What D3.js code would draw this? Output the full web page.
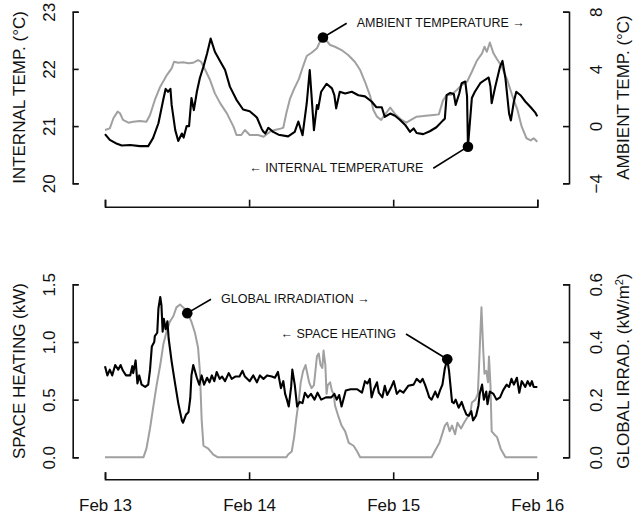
<!DOCTYPE html>
<html>
<head>
<meta charset="utf-8">
<script src="https://cdn.jsdelivr.net/npm/d3@7"></script>
<style>
  body { margin: 0; background: #fff; }
  svg text { font-family: "Liberation Sans", Arial, Helvetica, sans-serif; fill: #111; }
</style>
</head>
<body>
<script>
// hours since Feb 13 00:00, value
const internalTemp = [
  [0,20.86],[0.8,20.76],[2,20.69],[2.8,20.66],[4.2,20.67],[5.8,20.65],[7.2,20.65],[8,20.79],
  [8.9,21.05],[9.7,21.46],[10.1,21.65],[10.5,21.6],[10.9,21.65],[11.1,21.37],[11.7,20.93],
  [12.2,20.74],[12.8,20.87],[13.1,20.8],[13.6,21.0],[14.0,21.0],[14.4,21.49],[14.8,21.28],
  [15.3,21.6],[15.8,21.84],[16.4,22.04],[17.0,22.27],[17.6,22.53],[18.3,22.3],[19.2,22.13],
  [20.0,21.98],[20.8,21.69],[21.9,21.46],[23.0,21.29],[24.1,21.26],[25.3,21.15],[26.1,20.95],
  [26.4,20.9],[26.7,20.87],[27.2,20.97],[28.0,20.9],[28.9,20.85],[30.5,20.82],[31.6,20.9],
  [32.2,21.08],[32.9,20.84],[33.6,21.4],[34.1,21.98],[34.8,20.93],[35.3,21.37],[35.5,21.3],
  [36.0,21.6],[36.9,21.74],[37.8,21.66],[38.2,21.54],[38.5,21.31],[39.1,21.6],[40.0,21.57],
  [41.1,21.6],[42.2,21.54],[43.3,21.52],[44.4,21.43],[45.2,21.33],[46.1,21.33],[46.6,21.16],
  [47.5,21.22],[48.3,21.18],[49.1,21.11],[50.0,21.02],[50.8,20.9],[51.4,20.96],[51.9,20.88],
  [53.0,20.86],[54.1,20.91],[55.2,20.98],[56.3,21.1],[56.6,21.13],[56.9,21.54],[57.5,21.58],
  [58.1,21.56],[58.4,21.37],[59.0,21.57],[59.4,21.75],[60.0,21.78],[60.3,21.52],[60.45,20.64],
  [61.1,21.49],[61.6,21.6],[62.5,21.75],[63.3,21.81],[63.9,21.85],[64.2,21.69],[64.4,21.4],
  [65.0,21.69],[65.8,22.04],[66.2,22.14],[66.7,21.83],[67.3,21.22],[67.6,21.1],[68.1,21.43],
  [68.5,21.6],[69.2,21.54],[70.0,21.43],[70.9,21.33],[71.7,21.23],[72.0,21.17]
];

const ambientTemp = [
  [0,-0.27],[0.8,-0.16],[1.4,0.55],[2.1,1.01],[2.5,0.9],[3.0,0.43],[3.9,0.24],[4.7,0.3],
  [5.8,0.36],[6.9,0.3],[7.5,0.78],[8.3,1.83],[9.2,2.76],[10.3,3.57],[11.1,4.04],[11.5,4.5],
  [12.2,4.43],[13.0,4.46],[13.9,4.4],[14.7,4.43],[15.5,4.62],[16.0,4.5],[16.7,3.92],
  [17.5,3.22],[18.3,2.29],[19.2,1.59],[20.3,0.89],[21.4,-0.04],[21.9,-0.62],[22.7,-0.62],
  [23.3,-0.27],[24.1,-0.62],[25.5,-0.62],[26.4,-0.74],[27.5,-0.39],[28.3,-0.27],[29.4,-0.16],
  [29.7,-0.1],[30.2,0.9],[30.8,1.9],[31.5,2.6],[32.3,3.3],[33.0,4.2],[33.6,4.9],[34.4,5.13],
  [35.3,5.44],[35.8,5.9],[36.4,6.2],[37.5,5.67],[38.3,5.55],[39.4,5.32],[40.5,4.97],
  [41.6,4.5],[42.5,3.92],[43.3,3.1],[44.2,2.06],[44.7,1.13],[45.3,0.66],[46.0,0.43],
  [46.6,0.78],[47.5,1.3],[48.3,0.85],[49.4,0.43],[50.2,0.24],[51.1,0.47],[51.9,0.66],
  [53.0,0.7],[54.7,0.78],[55.6,0.82],[56.3,1.8],[56.9,2.17],[57.7,2.2],[58.6,2.52],
  [59.4,2.87],[60.3,3.1],[61.1,3.8],[61.9,4.55],[62.8,5.09],[63.2,5.55],[63.6,5.2],
  [64.1,5.85],[64.7,5.09],[65.3,4.67],[66.1,4.15],[67.0,3.22],[67.8,2.17],[68.7,1.13],
  [69.4,-0.04],[70.2,-0.85],[70.9,-1.0],[71.4,-0.85],[72.0,-1.1]
];

const spaceHeating = [
  [0,0.79],[0.4,0.71],[0.8,0.76],[1.2,0.71],[1.7,0.8],[2.2,0.76],[2.6,0.8],[3.0,0.75],
  [3.5,0.71],[4.2,0.71],[4.55,0.79],[4.7,0.73],[5.1,0.84],[5.4,0.64],[5.7,0.71],[6.1,0.63],
  [6.7,0.61],[7.2,0.63],[7.5,0.76],[7.8,0.96],[8.2,1.0],[8.3,1.05],[8.7,1.08],[8.9,1.29],
  [9.2,1.39],[9.4,1.32],[9.6,1.09],[9.8,1.2],[10.1,1.11],[10.4,1.18],[10.6,1.03],[11.1,0.83],
  [11.7,0.63],[12.2,0.47],[12.8,0.32],[13.0,0.3],[13.5,0.37],[13.9,0.39],[14.2,0.51],
  [14.4,0.71],[14.7,0.8],[15.3,0.69],[15.7,0.63],[16.1,0.71],[16.5,0.63],[17.0,0.69],
  [17.4,0.65],[17.8,0.71],[18.2,0.66],[18.6,0.74],[19.1,0.68],[19.5,0.7],[20.0,0.66],
  [20.6,0.73],[21.1,0.68],[21.7,0.7],[22.4,0.7],[22.9,0.75],[23.3,0.7],[24.1,0.66],
  [24.7,0.71],[25.3,0.65],[25.8,0.71],[26.4,0.68],[27.0,0.71],[27.8,0.7],[28.3,0.69],
  [28.8,0.74],[29.3,0.6],[29.7,0.66],[30.0,0.55],[30.3,0.5],[30.6,0.44],[31.0,0.61],
  [31.2,0.76],[31.6,0.63],[32.0,0.44],[32.4,0.48],[32.9,0.47],[33.3,0.56],[33.8,0.52],
  [34.3,0.55],[34.9,0.5],[35.4,0.56],[36.0,0.5],[36.8,0.52],[37.7,0.52],[38.2,0.55],
  [38.6,0.5],[39.0,0.54],[39.4,0.44],[40.1,0.58],[40.9,0.59],[42.0,0.59],[42.8,0.56],
  [43.3,0.66],[43.7,0.64],[44.1,0.68],[44.4,0.52],[44.8,0.59],[45.3,0.65],[45.6,0.56],
  [46.2,0.52],[46.6,0.62],[47.0,0.54],[47.6,0.6],[48.1,0.66],[48.6,0.55],[49.1,0.58],
  [49.7,0.56],[50.5,0.62],[51.4,0.63],[51.9,0.68],[52.5,0.65],[52.9,0.68],[53.3,0.63],
  [53.7,0.57],[54.0,0.52],[54.4,0.5],[55.0,0.57],[55.4,0.52],[55.8,0.58],[56.2,0.63],
  [56.6,0.77],[57.0,0.85],[57.3,0.75],[57.8,0.48],[58.1,0.47],[58.4,0.5],[58.9,0.43],
  [59.4,0.48],[59.8,0.42],[60.2,0.37],[60.6,0.36],[61.0,0.4],[61.3,0.32],[61.8,0.36],
  [62.2,0.45],[62.4,0.55],[62.8,0.63],[63.1,0.5],[63.5,0.57],[63.7,0.46],[64.1,0.57],
  [64.7,0.55],[65.2,0.5],[65.8,0.52],[66.3,0.58],[66.9,0.63],[67.3,0.61],[67.7,0.68],
  [68.1,0.63],[68.6,0.69],[69.0,0.56],[69.4,0.66],[70.0,0.61],[70.4,0.66],[70.8,0.62],
  [71.1,0.66],[71.4,0.61],[72.0,0.61]
];

const globalIrrad = [
  [0,0],[6.4,0],[6.9,0.03],[7.5,0.1],[8.0,0.17],[8.6,0.25],[9.2,0.32],[9.7,0.39],
  [10.3,0.44],[10.8,0.47],[11.4,0.49],[11.9,0.52],[12.5,0.53],[13.0,0.52],[13.6,0.51],
  [14.4,0.47],[15.0,0.43],[15.5,0.38],[15.8,0.3],[16.1,0.13],[16.4,0.04],[17.2,0.03],
  [18.0,0.01],[18.8,0],[30.2,0],[30.5,0.01],[31.1,0.02],[31.5,0.07],[31.9,0.14],[32.3,0.2],
  [32.6,0.26],[33.0,0.3],[33.4,0.32],[33.7,0.29],[34.0,0.26],[34.4,0.24],[34.8,0.25],
  [35.1,0.31],[35.3,0.35],[35.6,0.36],[35.9,0.32],[36.2,0.31],[36.4,0.37],[36.7,0.32],
  [36.9,0.22],[37.1,0.25],[37.5,0.26],[37.8,0.23],[38.1,0.22],[38.3,0.18],[38.9,0.14],
  [39.4,0.11],[40.0,0.09],[40.6,0.05],[41.4,0.04],[42.0,0.02],[42.5,0],[54.4,0],[54.9,0.02],
  [55.7,0.05],[56.6,0.11],[57.0,0.12],[57.4,0.09],[57.8,0.11],[58.3,0.08],[58.7,0.12],
  [59.3,0.1],[59.8,0.12],[60.4,0.14],[60.9,0.16],[61.1,0.19],[61.7,0.2],[62.1,0.22],
  [62.4,0.37],[62.7,0.52],[63.0,0.37],[63.2,0.29],[63.5,0.3],[63.8,0.26],[63.95,0.35],
  [64.2,0.25],[64.4,0.09],[64.8,0.08],[65.3,0.07],[65.9,0.03],[66.7,0],[72,0]
];

const dayTicks = [0, 24, 48, 72];
const dayLabels = ["Feb 13", "Feb 14", "Feb 15", "Feb 16"];
const internalTicks = [20, 21, 22, 23];
const ambientTicks = [-4, 0, 4, 8];
const heatingTicks = [0, 0.5, 1.0, 1.5];
const irradTicks = [0, 0.2, 0.4, 0.6];

const w = 634, h = 519;
const grey = "#a0a0a0";

const svg = d3.select("body").append("svg")
  .attr("width", w)
  .attr("height", h);

const x = d3.scaleLinear().domain([0, 72]).range([105, 537.3]);

const yInt = d3.scaleLinear().domain([20, 23]).range([183.3, 11.7]);
const yAmb = d3.scaleLinear().domain([-4, 8]).range([183.3, 11.7]);
const yHeat = d3.scaleLinear().domain([0, 1.5]).range([457.3, 284.3]);
const yIrr = d3.scaleLinear().domain([0, 0.6]).range([457.3, 284.3]);

const axisLeftX = 72.7, axisRightX = 569;

function styleAxis(g) {
  g.select(".domain").attr("stroke", "#111").attr("stroke-width", 1.6);
  g.selectAll(".tick line").attr("stroke", "#111").attr("stroke-width", 1.6);
}

// rotated y tick labels
function rotLabels(g, dx) {
  g.selectAll(".tick text")
    .attr("x", null).attr("dy", null)
    .attr("transform", "translate(" + dx + ",0) rotate(-90)")
    .attr("text-anchor", "middle")
    .style("font-size", "17px");
}

function yAxes(yl, yr, lt, rt, fl, fr) {
  svg.append("g")
    .attr("transform", "translate(" + axisLeftX + ",0)")
    .call(d3.axisLeft(yl).tickValues(lt).tickSize(-6).tickFormat(fl))
    .call(styleAxis)
    .call(g => rotLabels(g, -18));
  svg.append("g")
    .attr("transform", "translate(" + axisRightX + ",0)")
    .call(d3.axisRight(yr).tickValues(rt).tickSize(-6).tickFormat(fr))
    .call(styleAxis)
    .call(g => rotLabels(g, 32.5));
}

function yTitle(tx, cy, parts) {
  const t = svg.append("text")
    .attr("transform", "translate(" + tx + "," + cy + ") rotate(-90)")
    .attr("text-anchor", "middle")
    .style("font-size", "17px");
  parts.forEach(p => {
    const s = t.append("tspan").text(p.t);
    if (p.sup) s.attr("baseline-shift", "super").style("font-size", "11px");
  });
}

const line = (ys) => d3.line().x(d => x(d[0])).y(d => ys(d[1]));

// ---------- top panel ----------
svg.append("path").datum(ambientTemp)
  .attr("d", line(yAmb)).attr("fill", "none")
  .attr("stroke", grey).attr("stroke-width", 2).attr("stroke-linejoin", "round");
svg.append("path").datum(internalTemp)
  .attr("d", line(yInt)).attr("fill", "none")
  .attr("stroke", "#000").attr("stroke-width", 2.1).attr("stroke-linejoin", "round");

yAxes(yInt, yAmb, internalTicks, ambientTicks, d3.format("d"), d3.format("d"));

svg.append("g")
  .attr("transform", "translate(0,206.7)")
  .call(d3.axisBottom(x).tickValues(dayTicks).tickSize(-7).tickFormat(""))
  .call(styleAxis);

yTitle(25, 97.5, [{t: "INTERNAL TEMP. (°C)"}]);
yTitle(628.5, 97.5, [{t: "AMBIENT TEMP. (°C)"}]);

// ---------- bottom panel ----------
svg.append("path").datum(globalIrrad)
  .attr("d", line(yIrr)).attr("fill", "none")
  .attr("stroke", grey).attr("stroke-width", 2).attr("stroke-linejoin", "round");
svg.append("path").datum(spaceHeating)
  .attr("d", line(yHeat)).attr("fill", "none")
  .attr("stroke", "#000").attr("stroke-width", 2.1).attr("stroke-linejoin", "round");

yAxes(yHeat, yIrr, heatingTicks, irradTicks, d3.format(".1f"), d3.format(".1f"));

svg.append("g")
  .attr("transform", "translate(0,479.3)")
  .call(d3.axisBottom(x).tickValues(dayTicks).tickSize(-7).tickPadding(19.6)
    .tickFormat((d, i) => dayLabels[i]))
  .call(styleAxis)
  .call(g => g.selectAll(".tick text").style("font-size", "17px"));

yTitle(25, 371, [{t: "SPACE HEATING (kW)"}]);
yTitle(628.5, 371, [{t: "GLOBAL IRRAD. (kW/m"}, {t: "2", sup: true}, {t: ")"}]);

// ---------- annotations ----------
const notes = [
  {ys: yAmb, pt: [36.3, 6.2], end: [346.7, 23.3], label: "AMBIENT TEMPERATURE \u2192", side: 1},
  {ys: yInt, pt: [60.45, 20.64], end: [433.3, 168.3], label: "\u2190 INTERNAL TEMPERATURE", side: -1},
  {ys: yIrr, pt: [13.7, 0.5], end: [211, 299.3], label: "GLOBAL IRRADIATION \u2192", side: 1},
  {ys: yHeat, pt: [57.0, 0.85], end: [406, 334], label: "\u2190 SPACE HEATING", side: -1}
];

notes.forEach(n => {
  const px = x(n.pt[0]), py = n.ys(n.pt[1]);
  svg.append("line")
    .attr("x1", px).attr("y1", py)
    .attr("x2", n.end[0]).attr("y2", n.end[1])
    .attr("stroke", "#000").attr("stroke-width", 1.6);
  svg.append("circle")
    .attr("cx", px).attr("cy", py).attr("r", 5.3)
    .attr("fill", "#000");
  svg.append("text")
    .attr("x", n.end[0] + n.side * 10)
    .attr("y", n.end[1] - 0.5)
    .attr("dy", "0.35em")
    .attr("text-anchor", n.side > 0 ? "start" : "end")
    .style("font-size", "12.5px")
    .text(n.label);
});
</script>
</body>
</html>
